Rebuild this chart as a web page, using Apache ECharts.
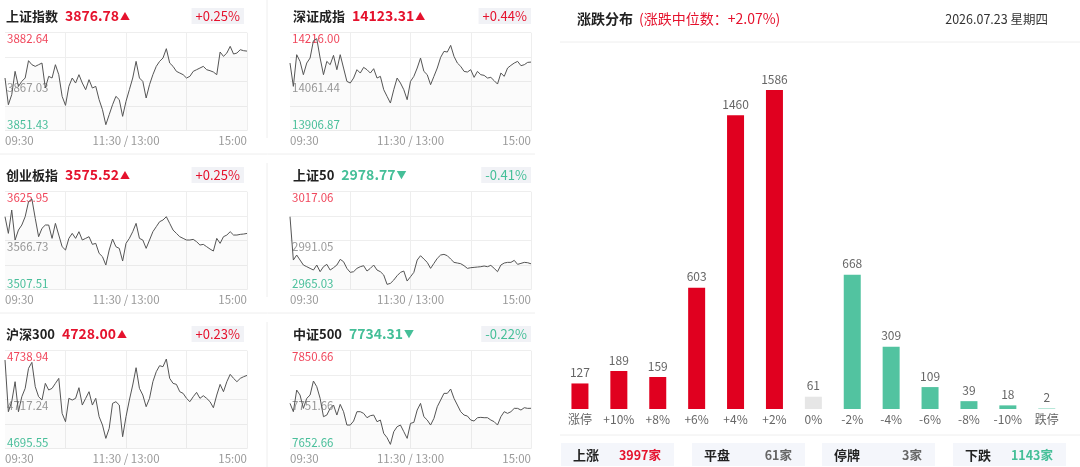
<!DOCTYPE html>
<html>
<head>
<meta charset="utf-8">
<script src="https://cdn.jsdelivr.net/npm/echarts@6/dist/echarts.min.js"></script>
<style>
html, body { margin: 0; padding: 0; background: #fff; }
#chart { width: 1080px; height: 467px; }
</style>
</head>
<body>
<div id="chart"></div>
<script>
// intraday lines, one value every ~3.3 minutes, 09:30 -> 15:00
const shData = [
    3868.21, 3859.71, 3862.90, 3870.33, 3865.55, 3867.14, 3868.21, 3873.73, 3872.45, 3871.92,
    3872.45, 3872.98, 3865.02, 3868.74, 3868.21, 3872.45, 3869.27, 3862.37, 3859.50, 3865.55,
    3868.21, 3866.61, 3869.27, 3866.61, 3864.49, 3867.68, 3865.02, 3865.55, 3861.31, 3858.12,
    3853.34, 3856.53, 3859.71, 3862.37, 3861.31, 3856.00, 3860.78, 3864.49, 3868.21, 3873.51,
    3868.21, 3867.14, 3861.84, 3866.08, 3869.27, 3871.92, 3873.51, 3874.58, 3877.55, 3872.98,
    3871.92, 3870.33, 3869.80, 3869.27, 3868.21, 3868.74, 3870.33, 3870.86, 3871.39, 3871.92,
    3870.86, 3870.54, 3870.12, 3869.27, 3876.49, 3875.11, 3876.17, 3878.29, 3875.85, 3876.17,
    3877.23, 3876.91, 3876.78
]
const szData = [
    14120.32, 14046.71, 14146.60, 14125.57, 14083.52, 14120.32, 14136.09, 14190.76, 14197.07, 14136.09,
    14083.52, 14125.57, 14115.06, 14144.50, 14099.29, 14146.60, 14104.54, 14062.49, 14057.23, 14073.00,
    14099.29, 14088.77, 14106.65, 14099.29, 14088.77, 14102.44, 14073.00, 14078.26, 14036.20, 14015.17,
    13994.14, 14036.20, 14073.00, 14057.23, 14036.20, 14004.66, 14062.49, 14078.26, 14104.54, 14136.09,
    14094.03, 14083.52, 14051.97, 14078.26, 14104.54, 14138.19, 14157.12, 14155.01, 14176.04, 14141.35,
    14120.32, 14109.80, 14094.03, 14091.93, 14099.29, 14075.10, 14094.03, 14083.52, 14081.41, 14073.00,
    14075.10, 14064.59, 14054.07, 14088.77, 14078.26, 14104.54, 14112.96, 14120.32, 14125.57, 14111.91,
    14115.06, 14122.42, 14123.31
]
const cybData = [
    3595.74, 3575.60, 3603.80, 3567.54, 3579.62, 3585.67, 3595.74, 3613.87, 3617.09, 3593.72,
    3571.57, 3581.64, 3585.67, 3585.67, 3569.55, 3587.68, 3573.58, 3559.48, 3555.45, 3569.55,
    3575.60, 3569.55, 3577.61, 3567.54, 3569.55, 3571.57, 3562.30, 3563.51, 3551.42, 3547.40,
    3537.32, 3555.45, 3568.75, 3559.48, 3557.47, 3542.16, 3563.51, 3569.55, 3577.61, 3587.68,
    3569.55, 3567.54, 3557.47, 3567.54, 3577.61, 3583.65, 3589.70, 3591.71, 3595.74, 3587.68,
    3579.62, 3575.60, 3571.57, 3569.55, 3567.54, 3567.54, 3568.34, 3565.52, 3561.50, 3562.30,
    3559.48, 3556.66, 3554.24, 3569.55, 3563.51, 3571.57, 3573.58, 3577.61, 3573.58, 3573.58,
    3574.39, 3574.79, 3575.52
]
const sz50Data = [
    3003.79, 2980.78, 2983.44, 2980.78, 2978.13, 2977.24, 2976.36, 2975.47, 2978.13, 2974.59,
    2977.24, 2978.48, 2975.47, 2976.71, 2978.13, 2981.14, 2979.90, 2976.36, 2974.23, 2974.59,
    2976.36, 2977.24, 2977.77, 2974.94, 2976.36, 2978.13, 2975.47, 2974.59, 2972.82, 2967.86,
    2968.39, 2970.16, 2972.46, 2974.23, 2974.94, 2969.63, 2971.93, 2974.23, 2980.78, 2983.08,
    2981.31, 2979.54, 2976.36, 2979.01, 2981.67, 2983.44, 2983.79, 2983.08, 2981.31, 2979.54,
    2979.19, 2978.84, 2977.77, 2976.36, 2976.71, 2976.89, 2977.07, 2977.24, 2977.60, 2977.24,
    2977.95, 2976.36, 2974.59, 2978.13, 2979.19, 2979.54, 2979.54, 2980.60, 2978.48, 2979.01,
    2979.54, 2979.37, 2978.77
]
const hs300Data = [
    4734.81, 4711.93, 4716.36, 4725.22, 4711.93, 4718.57, 4722.26, 4731.12, 4733.78, 4723.00,
    4718.57, 4717.10, 4724.48, 4721.53, 4722.26, 4724.48, 4726.69, 4711.19, 4707.50, 4717.84,
    4717.10, 4717.84, 4722.56, 4714.88, 4717.84, 4720.79, 4714.88, 4717.84, 4709.72, 4706.03,
    4700.12, 4704.55, 4715.62, 4716.36, 4714.88, 4700.86, 4709.72, 4717.10, 4723.74, 4731.41,
    4722.26, 4719.31, 4714.15, 4717.84, 4725.22, 4729.64, 4732.30, 4731.86, 4735.25, 4726.69,
    4724.48, 4724.03, 4720.79, 4720.05, 4717.84, 4716.36, 4718.57, 4720.49, 4717.84, 4719.02,
    4717.84, 4716.36, 4713.70, 4719.31, 4724.03, 4720.79, 4725.22, 4728.46, 4726.69, 4725.22,
    4726.69, 4727.43, 4728.00
]
const zz500Data = [
    7744.25, 7727.42, 7771.19, 7761.09, 7734.15, 7754.35, 7761.09, 7789.38, 7777.93, 7754.35,
    7717.31, 7720.68, 7734.15, 7740.89, 7720.68, 7742.23, 7727.42, 7700.48, 7700.48, 7708.56,
    7727.42, 7727.42, 7724.05, 7715.29, 7719.33, 7720.68, 7707.21, 7710.58, 7683.64, 7674.89,
    7661.42, 7687.01, 7697.11, 7700.48, 7687.01, 7673.54, 7703.84, 7705.86, 7730.78, 7744.25,
    7717.31, 7710.58, 7700.48, 7713.95, 7737.52, 7750.99, 7764.46, 7764.46, 7773.21, 7754.35,
    7740.89, 7727.42, 7720.68, 7718.66, 7710.58, 7708.56, 7715.29, 7715.97, 7715.29, 7715.29,
    7710.58, 7707.21, 7700.48, 7717.31, 7727.42, 7724.05, 7727.42, 7734.15, 7734.15, 7730.78,
    7735.50, 7734.15, 7734.31
]

const indexNames = ["上证指数", "深证成指", "创业板指", "上证50", "沪深300", "中证500"]
const indexLast = ["3876.78", "14123.31", "3575.52", "2978.77", "4728.00", "7734.31"]
const indexChange = ["+0.25%", "+0.44%", "+0.25%", "-0.41%", "+0.23%", "-0.22%"]
const axisMax = [3882.64, 14216.00, 3625.95, 3017.06, 4738.94, 7850.66]
const axisMid = [3867.03, 14061.44, 3566.73, 2991.05, 4717.24, 7751.66]
const axisMin = [3851.43, 13906.87, 3507.51, 2965.03, 4695.55, 7652.66]

const timeLabels = ["09:30", "11:30 / 13:00", "15:00"]
const timeLabelIdx = [0, 36, 72]

// 涨跌分布
const barCategories = ["涨停", "+10%", "+8%", "+6%", "+4%", "+2%", "0%", "-2%", "-4%", "-6%", "-8%", "-10%", "跌停"]
const barValues = [127, 189, 159, 603, 1460, 1586, 61, 668, 309, 109, 39, 18, 2]

const summaryLabels = ["上涨", "平盘", "停牌", "下跌"]
const summaryCounts = [3997, 61, 3, 1143]

const RED = "#e5122d"
const GREEN = "#45bf98"
const FONT = '"Noto Sans CJK SC", "Noto Sans", sans-serif'

const lines = [shData, szData, cybData, sz50Data, hs300Data, zz500Data]
const colLeft = [5, 290]
const colWidth = [242, 241]
const rowTop = [32.7, 191.7, 350.7]
const rowStep = 159

const grids = []
const xAxes = []
const yAxes = []
const series = []
const graphics = []

lines.forEach((data, i) => {
    const r = Math.floor(i / 2)
    const c = i % 2
    const step = (axisMax[i] - axisMin[i]) / 4
    const tol = step / 10
    grids.push({ left: colLeft[c], top: rowTop[r], width: colWidth[c], height: 98 })
    xAxes.push({
        gridIndex: i,
        type: "category",
        boundaryGap: false,
        data: data.map((_, k) => String(k)),
        axisLine: { show: false },
        axisTick: { show: false },
        splitLine: {
            show: true,
            interval: idx => idx > 0 && idx % 18 === 0,
            lineStyle: { color: "#eeeeee" },
        },
        axisLabel: {
            interval: idx => timeLabelIdx.includes(idx),
            formatter: v => timeLabels[timeLabelIdx.indexOf(Number(v))] || "",
            alignMinLabel: "left",
            alignMaxLabel: "right",
            color: "#9a9a9a",
            fontSize: 11.5,
            margin: 4,
        },
    })
    yAxes.push({
        gridIndex: i,
        type: "value",
        min: axisMin[i],
        max: axisMax[i],
        interval: step,
        axisLine: { show: false },
        axisTick: { show: false },
        splitLine: { lineStyle: { color: "#eeeeee" } },
        axisLabel: {
            inside: true,
            margin: 2,
            fontSize: 11.5,
            verticalAlign: "top",
            verticalAlignMinLabel: "bottom",
            verticalAlignMaxLabel: "top",
            formatter: v => {
                if (Math.abs(v - axisMax[i]) < tol) return `{hi|${axisMax[i].toFixed(2)}}`
                if (Math.abs(v - axisMin[i]) < tol) return `{lo|${axisMin[i].toFixed(2)}}`
                if (Math.abs(v - (axisMin[i] + 2 * step)) < tol) return `{mid|${axisMid[i].toFixed(2)}}`
                return ""
            },
            rich: {
                hi: { color: "#f0475c", fontSize: 11.5 },
                mid: { color: "#9a9a9a", fontSize: 11.5 },
                lo: { color: "#4cc39e", fontSize: 11.5 },
            },
        },
    })
    series.push({
        type: "line",
        xAxisIndex: i,
        yAxisIndex: i,
        data: data,
        symbol: "none",
        silent: true,
        lineStyle: { color: "#555555", width: 1 },
        areaStyle: { color: "rgba(0, 0, 0, 0.025)" },
    })

    // header of each small panel
    const up = indexChange[i][0] === "+"
    const tone = up ? RED : GREEN
    const headY = 16 + r * rowStep
    graphics.push({
        type: "text",
        x: c === 0 ? 6 : 293,
        y: headY,
        style: {
            text: `{n|${indexNames[i]}}{v|${indexLast[i]}}{a|${up ? "▲" : "▼"}}`,
            verticalAlign: "middle",
            rich: {
                n: { fontSize: 13, fontWeight: "bold", fill: "#222222", fontFamily: FONT, padding: [0, 7, 0, 0] },
                v: { fontSize: 14, fontWeight: "bold", fill: tone, fontFamily: FONT },
                a: { fontSize: 10, fill: tone, fontFamily: FONT, padding: [0, 0, 0, 1] },
            },
        },
    })
    graphics.push({
        type: "text",
        x: c === 0 ? 244 : 531,
        y: headY,
        style: {
            text: indexChange[i],
            align: "right",
            verticalAlign: "middle",
            fill: tone,
            fontSize: 13,
            fontFamily: FONT,
            backgroundColor: "#f1f2f6",
            padding: [2, 4, 1, 4],
        },
    })
})

// separators of the left panel
const sepColor = "#eeeeee"
;[[0, 154, 535, 154], [0, 313, 535, 313], [267, 0, 267, 138], [267, 163, 267, 297], [267, 322, 267, 467],
  [560, 42, 1080, 42], [560, 435, 1080, 435]].forEach(s => {
    graphics.push({
        type: "line",
        shape: { x1: s[0], y1: s[1], x2: s[2], y2: s[3] },
        style: { stroke: sepColor, lineWidth: 1 },
        silent: true,
    })
})

// right panel header
graphics.push({
    type: "text",
    x: 577,
    y: 19,
    style: {
        text: "{t|涨跌分布}{s|(涨跌中位数：+2.07%)}",
        verticalAlign: "middle",
        rich: {
            t: { fontSize: 14, fontWeight: "bold", fill: "#222222", fontFamily: FONT, padding: [0, 6, 0, 0] },
            s: { fontSize: 14, fill: RED, fontFamily: FONT },
        },
    },
})
graphics.push({
    type: "text",
    x: 1048,
    y: 19,
    style: { text: "2026.07.23 星期四", align: "right", verticalAlign: "middle", fontSize: 12.5, fill: "#333333", fontFamily: FONT },
})

// summary boxes
const boxLeft = [561, 692, 822, 953]
const summaryColors = [RED, "#666666", "#666666", GREEN]
summaryLabels.forEach((lab, k) => {
    graphics.push({
        type: "rect",
        shape: { x: boxLeft[k], y: 443, width: 113, height: 23 },
        style: { fill: "#f4f6fb" },
        silent: true,
    })
    graphics.push({
        type: "text",
        x: boxLeft[k] + 12,
        y: 455,
        style: { text: lab, verticalAlign: "middle", fontSize: 13, fontWeight: "bold", fill: "#222222", fontFamily: FONT },
    })
    graphics.push({
        type: "text",
        x: boxLeft[k] + 100,
        y: 455,
        style: {
            text: summaryCounts[k] + "家",
            align: "right",
            verticalAlign: "middle",
            fontSize: 12.5,
            fontWeight: "bold",
            fill: summaryColors[k],
            fontFamily: FONT,
        },
    })
})

// distribution bar chart
grids.push({ left: 560.5, width: 505.7, top: 90, height: 319 })
xAxes.push({
    gridIndex: 6,
    type: "category",
    data: barCategories,
    axisLine: { show: false },
    axisTick: { show: false },
    axisLabel: { color: "#666666", fontSize: 12, margin: 4, interval: 0 },
})
yAxes.push({
    gridIndex: 6,
    type: "value",
    min: 0,
    max: Math.max(...barValues),
    show: false,
    splitLine: { show: false },
})
series.push({
    type: "bar",
    xAxisIndex: 6,
    yAxisIndex: 6,
    data: barValues,
    barWidth: 17,
    silent: true,
    itemStyle: {
        color: p => (p.dataIndex < 6 ? "#e0001f" : p.dataIndex === 6 ? "#e6e6e6" : "#52c3a0"),
    },
    label: { show: true, position: "top", distance: 5, color: "#666666", fontSize: 12 },
})

const chart = echarts.init(document.getElementById("chart"))
chart.setOption({
    animation: false,
    backgroundColor: "#ffffff",
    textStyle: { fontFamily: FONT },
    grid: grids,
    xAxis: xAxes,
    yAxis: yAxes,
    series: series,
    graphic: graphics,
})
</script>
</body>
</html>
